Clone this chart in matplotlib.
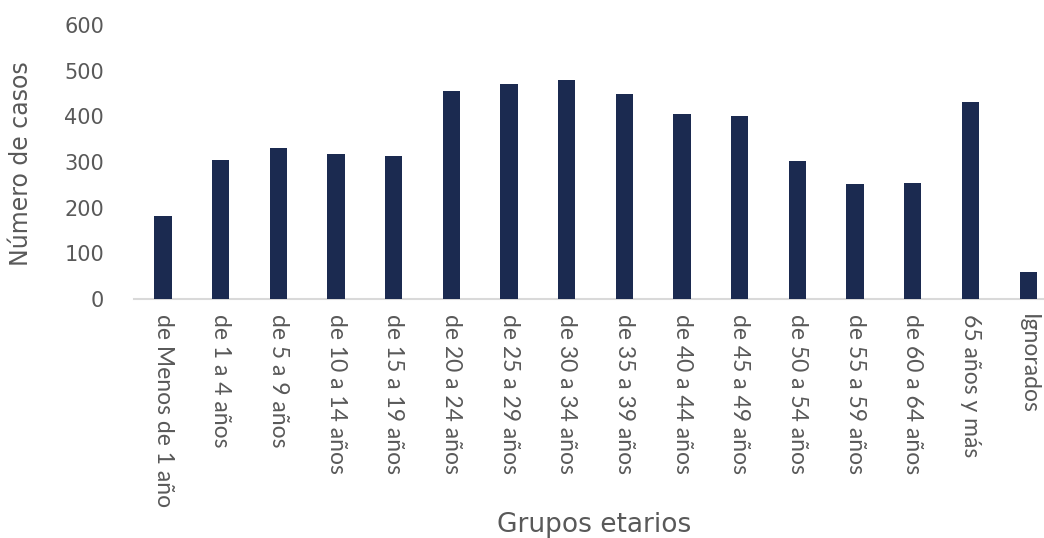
import matplotlib
matplotlib.use("Agg")
import matplotlib.pyplot as plt

categories = ["de Menos de 1 año", "de 1 a 4 años", "de 5 a 9 años", "de 10 a 14 años",
              "de 15 a 19 años", "de 20 a 24 años", "de 25 a 29 años", "de 30 a 34 años",
              "de 35 a 39 años", "de 40 a 44 años", "de 45 a 49 años", "de 50 a 54 años",
              "de 55 a 59 años", "de 60 a 64 años", "65 años y más", "Ignorados"]
casos = [181, 304, 330, 318, 313, 456, 470, 479, 448, 406, 400, 302, 251, 254, 431, 59]
yticks = [0, 100, 200, 300, 400, 500, 600]

W, H = 1044, 538
fig = plt.figure(figsize=(W / 100, H / 100), dpi=100)
left, right, bottom, top = 134.2, 1057.0, 299.0, 25.0
ax = fig.add_axes([left / W, 1 - bottom / H, (right - left) / W, (bottom - top) / H])

x = list(range(len(categories)))
ax.bar(x, casos, width=0.3, color="#1b2a50", zorder=3)

ax.set_xlim(-0.5, len(categories) - 0.5)
ax.set_ylim(0, 600)
ax.set_yticks(yticks)
ax.set_yticklabels([str(v) for v in yticks], fontsize=15, color="#595959",
                   family="DejaVu Sans")
ax.set_xticks(x)
ax.set_xticklabels(categories, rotation=270, ha="center", va="top", fontsize=16.5,
                   color="#595959", family=["Lato", "DejaVu Sans"])
ax.tick_params(axis="y", length=0, pad=21.7)
ax.tick_params(axis="x", length=0, pad=10.5)

for s in ["top", "right", "left"]:
    ax.spines[s].set_visible(False)
ax.spines["bottom"].set_color("#d9d9d9")
ax.spines["bottom"].set_linewidth(1.5)

ax.set_ylabel("Número de casos", fontsize=17, color="#595959", family="DejaVu Sans")
ax.yaxis.label.set_verticalalignment("center")
ax.yaxis.set_label_coords((21.5 - left) / (right - left), (bottom - 164) / (bottom - top))

fig.text(594 / W, 1 - 532 / H, "Grupos etarios", ha="center", va="baseline",
         fontsize=19, color="#595959", family="DejaVu Sans")

fig.savefig("out.png", dpi=100)
